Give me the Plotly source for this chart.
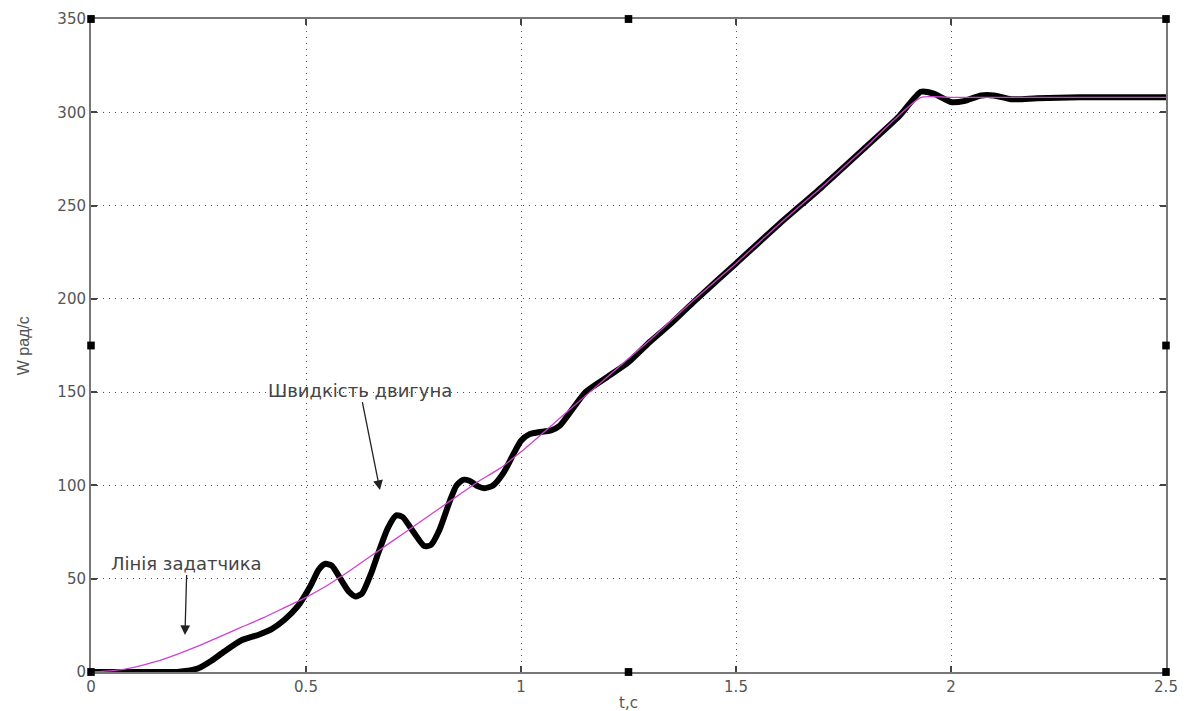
import plotly.graph_objects as go

# Reference (setpoint) line
ref_t = [0, 0.05, 0.1, 0.15, 0.2, 0.25, 0.3, 0.35, 0.4, 0.45, 0.5, 0.55, 0.6, 0.65, 0.7, 0.75,
         0.8, 0.85, 0.9, 0.95, 1.0, 1.1, 1.2, 1.3, 1.4, 1.5, 1.6, 1.7, 1.8, 1.93, 2.0, 2.2, 2.5]
ref_w = [0, 0.7, 2.5, 5.5, 9.5, 14, 19, 24, 29, 34.5, 40, 46.5, 54, 62, 70, 78,
         86, 94, 102, 109, 118, 138, 158, 178, 199, 219, 240, 260, 281, 308, 308, 308, 308]

# Motor speed
motor_t = [0, 0.1, 0.2, 0.22, 0.25, 0.28, 0.31, 0.35, 0.39, 0.42, 0.45, 0.48, 0.51, 0.53, 0.545,
           0.56, 0.58, 0.60, 0.615, 0.63, 0.65, 0.67, 0.69, 0.71, 0.725, 0.75, 0.775, 0.79, 0.81,
           0.835, 0.85, 0.865, 0.88, 0.90, 0.915, 0.935, 0.96, 0.985, 1.0, 1.02, 1.04, 1.07, 1.09,
           1.12, 1.15, 1.2, 1.25, 1.3, 1.35, 1.4, 1.5, 1.6, 1.7, 1.8, 1.88,
           1.93, 1.96, 2.0, 2.03, 2.07, 2.1, 2.14, 2.2, 2.3, 2.4, 2.5]
motor_w = [0, 0, 0, 0.5, 2, 6, 11, 17, 20, 23, 28, 35, 46, 55, 58,
           57, 50, 43, 40.5, 42, 52, 65, 77, 84, 83, 75, 67.5, 68, 76,
           92, 100, 103, 102.5, 99.5, 98.5, 100, 107, 118, 124, 127.5, 128.5, 129.5, 132,
           141, 150, 158, 166, 177, 187, 198, 219, 240, 260, 281, 298,
           311, 310, 305.5, 306, 309, 309, 307, 307.5, 308, 308, 308]

x_ticks = [0, 0.5, 1, 1.5, 2, 2.5]
x_tick_labels = ["0", "0.5", "1", "1.5", "2", "2.5"]
y_ticks = [0, 50, 100, 150, 200, 250, 300, 350]
y_tick_labels = ["0", "50", "100", "150", "200", "250", "300", "350"]

fig = go.Figure()
fig.add_trace(go.Scatter(x=motor_t, y=motor_w, mode="lines",
                         line=dict(color="black", width=6, shape="spline", smoothing=0.6),
                         showlegend=False))
fig.add_trace(go.Scatter(x=ref_t, y=ref_w, mode="lines",
                         line=dict(color="#d040d0", width=1.3, shape="spline", smoothing=0.5),
                         showlegend=False))

tick_font = dict(family="DejaVu Sans, sans-serif", size=15, color="#555555")
axis_common = dict(showline=True, linecolor="#777777", linewidth=2, mirror="allticks",
                   ticks="inside", ticklen=6, tickcolor="#444444", tickwidth=1.5,
                   showgrid=True, gridcolor="#555555", griddash="1px,5px", gridwidth=1.3,
                   zeroline=False, automargin=False, tickfont=tick_font)

fig.update_xaxes(range=[0, 2.5], tickvals=x_ticks, ticktext=x_tick_labels, **axis_common)
fig.update_yaxes(range=[0, 350], tickvals=y_ticks, ticktext=y_tick_labels, **axis_common)

# axis titles
fig.add_annotation(x=0.5, y=-0.0475, xref="paper", yref="paper", text="t,c", showarrow=False,
                   xanchor="center", yanchor="middle",
                   font=dict(family="DejaVu Sans, sans-serif", size=15, color="#555555"))
fig.add_annotation(x=-0.0625, y=0.5, xref="paper", yref="paper", text="W рад/с", showarrow=False,
                   textangle=-90, xanchor="center", yanchor="middle",
                   font=dict(family="Liberation Sans, Arial, sans-serif", size=16, color="#555555"))

ann_font = dict(family="DejaVu Sans, sans-serif", size=18, color="#444444")
fig.add_annotation(x=0.2185, y=19.8, xref="x", yref="y", text="Лінія задатчика",
                   showarrow=True, ax=2, ay=-72, arrowhead=2, arrowsize=1.5, arrowwidth=1.3,
                   arrowcolor="#222222", font=ann_font)
fig.add_annotation(x=0.672, y=97.5, xref="x", yref="y", text="Швидкість двигуна",
                   showarrow=True, ax=-20, ay=-100, arrowhead=2, arrowsize=1.5, arrowwidth=1.3,
                   arrowcolor="#222222", font=ann_font)

# selection handles around the axes box
for px, py in [(0, 0), (0.5, 0), (1, 0), (0, 0.5), (1, 0.5), (0, 1), (0.5, 1), (1, 1)]:
    fig.add_shape(type="rect", xref="paper", yref="paper",
                  x0=px - 0.0035, x1=px + 0.0035, y0=py - 0.006, y1=py + 0.006,
                  fillcolor="black", line=dict(width=0), layer="above")

# page body has an 8px margin, so the figure is sized to fit the 1192x711 window
fig.update_layout(width=1184, height=703, plot_bgcolor="white", paper_bgcolor="white",
                  margin=dict(l=83, r=26, t=11, b=39), showlegend=False)

fig.write_html("out.html")
